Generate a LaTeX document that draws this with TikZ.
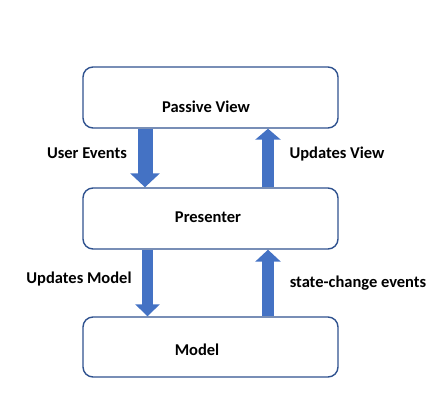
\documentclass[tikz,border=0pt]{standalone}
\usepackage{fontspec}
\setmainfont{Carlito}
\usetikzlibrary{arrows.meta}
\definecolor{boxblue}{HTML}{2F528F}
\definecolor{flowblue}{HTML}{4472C4}
\begin{document}
\begin{tikzpicture}[x=1pt, y=-1pt, font=\fontsize{16.5}{19}\selectfont\bfseries]

        % Styles
        \tikzstyle{layer} = [draw=boxblue, line width=1.4pt, rounded corners=10pt, minimum width=255pt, inner sep=0pt]
        \tikzstyle{title} = [inner sep=0pt, anchor=base]
        \tikzstyle{flow} = [draw=flowblue]
        \tikzstyle{note} = [inner sep=0pt]

        % Page
        \useasboundingbox (0,0) rectangle (436,415);

        % Layers
        \node[layer, minimum height=61pt] (view) at (210.5,97.5) {};
        \node[layer, minimum height=61pt] (presenter) at (210.5,218.5) {};
        \node[layer, minimum height=60pt] (model) at (210.5,347) {};

        % Layer titles
        \node[title] (viewtitle) at (206,112.5) {Passive View};
        \node[title] (presentertitle) at (208,222.5) {Presenter};
        \node[title] (modeltitle) at (197,355.5) {Model};

        % Flows between layers
        \draw[flow, line width=15pt, -{Triangle[width=29pt, length=14pt]}] ([xshift=-65.5pt]view.south) -- ([xshift=-65.5pt]presenter.north);
        \draw[flow, line width=12pt, -{Triangle[width=25pt, length=11pt]}] ([xshift=57.5pt]presenter.north) -- ([xshift=57.5pt]view.south);
        \draw[flow, line width=11.5pt, -{Triangle[width=24pt, length=12pt]}] ([xshift=-63pt]presenter.south) -- ([xshift=-63pt]model.north);
        \draw[flow, line width=12pt, -{Triangle[width=25pt, length=12pt]}] ([xshift=57.5pt]model.north) -- ([xshift=57.5pt]presenter.south);

        % Flow labels
        \node[note] (userevents) at (87,153) {User Events};
        \node[note] (updatesview) at (337,154) {Updates View};
        \node[note] (updatesmodel) at (79,279) {Updates Model};
        \node[note] (statechange) at (358,283) {state-change events};

    \end{tikzpicture}
\end{document}
